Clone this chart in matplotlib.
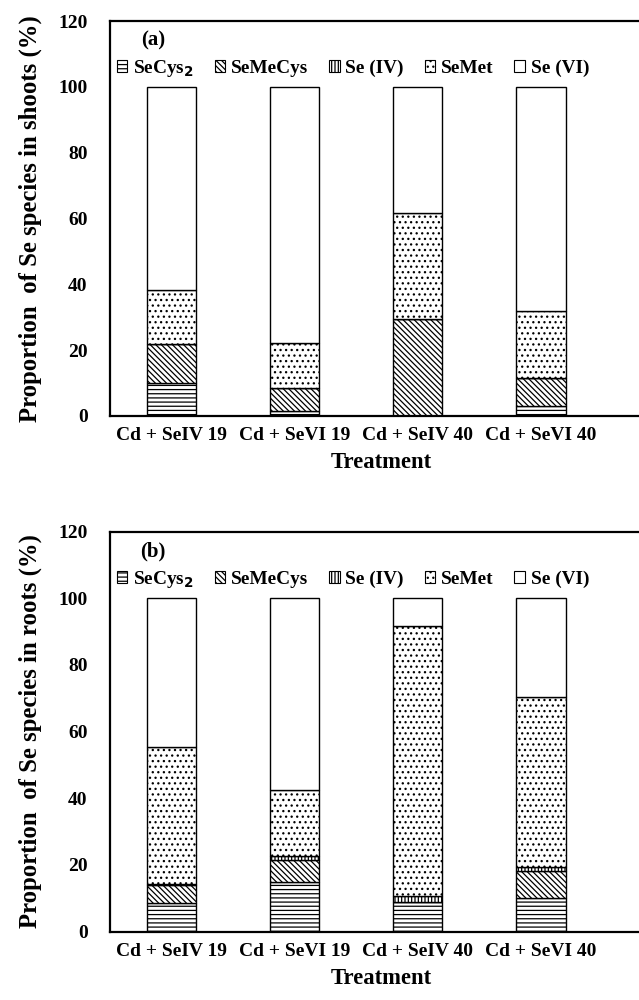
import matplotlib
matplotlib.use("Agg")
import matplotlib.pyplot as plt
import matplotlib.patches as mpatches
import numpy as np

# treatments and species
categories = ["Cd + SeIV 19", "Cd + SeVI 19", "Cd + SeIV 40", "Cd + SeVI 40"]
species = [r"SeCys$_\mathbf{2}$", "SeMeCys", "Se (IV)", "SeMet", "Se (VI)"]
hatches = ["----", "\\" * 6, "|||||", "...", ""]

# shoots (%)
shoot_secys2 = [10.0, 1.5, 0.0, 3.0]
shoot_semecys = [11.8, 7.0, 29.4, 8.5]
shoot_se4 = [0.0, 0.0, 0.0, 0.0]
shoot_semet = [16.5, 13.8, 32.2, 20.5]
shoot_se6 = [61.7, 77.7, 38.4, 68.0]

# roots (%)
root_secys2 = [8.5, 15.0, 9.0, 10.0]
root_semecys = [5.4, 6.4, 0.0, 8.1]
root_se4 = [0.4, 1.2, 1.8, 1.4]
root_semet = [41.0, 19.8, 80.8, 51.0]
root_se6 = [44.7, 57.6, 8.4, 29.5]

plt.rcParams["font.family"] = ["Liberation Serif", "DejaVu Sans"]
plt.rcParams["font.weight"] = "bold"
plt.rcParams["mathtext.fontset"] = "dejavusans"
plt.rcParams["hatch.linewidth"] = 0.9


def panel(ax, series, letter, ylabel):
    x = np.arange(len(categories))
    bottom = np.zeros(len(categories))
    for vals, h in zip(series, hatches):
        ax.bar(x, vals, 0.4, bottom=bottom, color="white", edgecolor="black",
               linewidth=1.0, hatch=h)
        bottom += np.array(vals)
    ax.set_xlim(-0.5, 3.9)
    ax.set_ylim(0, 120)
    ax.set_yticks([0, 20, 40, 60, 80, 100, 120])
    ax.set_xticks(x)
    ax.set_xticklabels(categories, fontsize=14, fontweight="bold")
    ax.tick_params(axis="y", length=0, pad=16, labelsize=14)
    ax.tick_params(axis="x", length=0, pad=8)
    for lab in ax.get_yticklabels():
        lab.set_fontweight("bold")
    for s in ax.spines.values():
        s.set_linewidth(1.6)
    ax.set_xlabel("Treatment", fontsize=16.3, fontweight="bold", labelpad=6)
    ax.set_ylabel(ylabel, fontsize=17.8, fontweight="bold", labelpad=12)
    ax.text(-0.15, 114, letter, fontsize=15, fontweight="bold",
            ha="center", va="center")
    handles = [mpatches.Patch(facecolor="white", edgecolor="black",
                              linewidth=0.8, hatch=h) for h in hatches]
    ax.legend(handles, species, ncol=5, loc="center left",
              bbox_to_anchor=(-0.005, 105.6 / 120), frameon=False,
              handlelength=0.55, handleheight=0.55,
              handletextpad=0.3, columnspacing=1.07, borderpad=0,
              prop={"weight": "bold", "size": 13.9})


fig = plt.figure(figsize=(6.39, 10), dpi=100)
ax1 = fig.add_axes([0.172, 0.584, 0.848, 0.395])
ax2 = fig.add_axes([0.172, 0.0685, 0.848, 0.400])

panel(ax1, [shoot_secys2, shoot_semecys, shoot_se4, shoot_semet, shoot_se6],
      "(a)", "Proportion  of Se species in shoots (%)")
panel(ax2, [root_secys2, root_semecys, root_se4, root_semet, root_se6],
      "(b)", "Proportion  of Se species in roots (%)")

fig.savefig("out.png", dpi=100)
